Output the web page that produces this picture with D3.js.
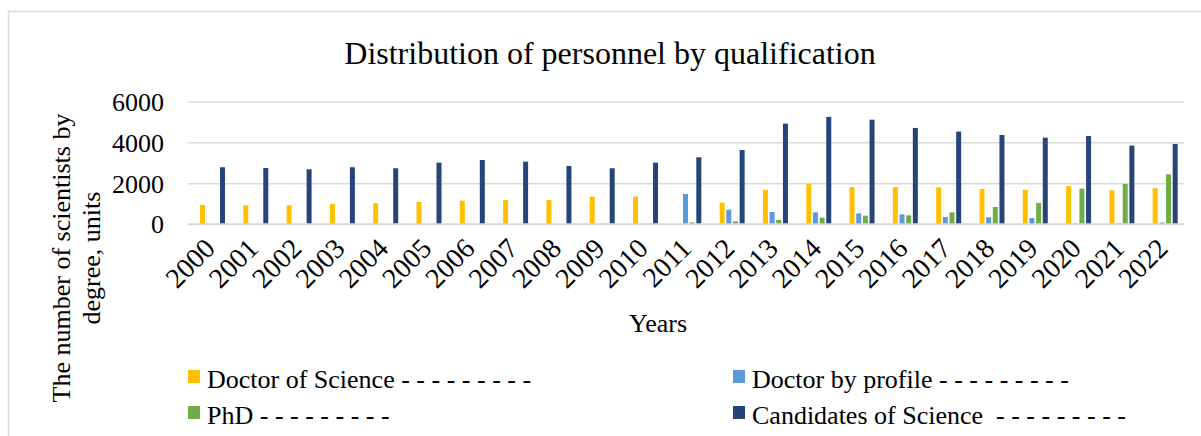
<!DOCTYPE html>
<html>
<head>
<meta charset="utf-8">
<script src="https://cdn.jsdelivr.net/npm/d3@7"></script>
<style>
  html, body { margin: 0; padding: 0; background: #fff; }
</style>
</head>
<body>
<svg id="chart" width="1201" height="436"></svg>
<script>
// Scientists by academic degree, 2000–2022
const years = ["2000","2001","2002","2003","2004","2005","2006","2007","2008","2009","2010",
  "2011","2012","2013","2014","2015","2016","2017","2018","2019","2020","2021","2022"];

const doctorOfScience = [930,915,915,980,1015,1080,1140,1175,1175,1340,1340,0,1045,1680,1975,1810,1810,1795,1715,1680,1860,1650,1750];
const doctorByProfile = [0,0,0,0,0,0,0,0,0,0,0,1470,700,590,570,520,475,345,330,295,30,30,70];
const phd = [0,0,0,0,0,0,0,0,0,20,20,80,130,200,310,410,425,570,835,1030,1730,1960,2435];
const candidatesOfScience = [2780,2745,2680,2780,2730,3005,3135,3055,2840,2730,3005,3270,3625,4915,5245,5110,4705,4525,4360,4230,4310,3840,3920];

const seriesNames = ["Doctor of Science", "Doctor by profile", "PhD", "Candidates of Science"];
const seriesValues = [doctorOfScience, doctorByProfile, phd, candidatesOfScience];
const seriesColors = ["#FFC000", "#5B9BD5", "#70AD47", "#264478"];
const legendLabels = [
  "Doctor of Science - - - - - - - - -",
  "Doctor by profile - - - - - - - - -",
  "PhD - - - - - - - - -",
  "Candidates of Science  - - - - - - - - -"
];
const yTicks = [0, 2000, 4000, 6000];

const FONT = "'Liberation Serif', 'Times New Roman', serif";

const svg = d3.select("#chart").attr("font-family", FONT);

// outer chart frame
svg.append("rect")
  .attr("x", 8.5).attr("y", 11.5).attr("width", 1220).attr("height", 460)
  .attr("fill", "#fff").attr("stroke", "#D9D9D9").attr("stroke-width", 1.5);

const plot = { left: 188, right: 1184, top: 101.5, bottom: 224 };

const x = d3.scaleBand().domain(years).range([plot.left, plot.right]);
const bw = x.bandwidth();
const xInner = d3.scaleBand().domain(d3.range(4))
  .range([bw * 0.277, bw * 0.854]).paddingInner(0.25);
const y = d3.scaleLinear().domain([0, 6000]).range([plot.bottom, plot.top]);

function serif(sel, size) {
  return sel.style("font-family", FONT).style("font-size", size + "px").attr("fill", "#000");
}

// title
serif(svg.append("text"), 32)
  .attr("x", 610).attr("y", 64)
  .attr("text-anchor", "middle")
  .text("Distribution of personnel by qualification");

// horizontal gridlines and value labels
const yAxis = d3.axisLeft(y).tickValues(yTicks).tickSize(-(plot.right - plot.left)).tickPadding(24).tickFormat(d3.format("d"));
const gy = svg.append("g").attr("transform", `translate(${plot.left},0)`).call(yAxis);
gy.select(".domain").remove();
gy.selectAll(".tick line").attr("stroke", "#D9D9D9").attr("stroke-width", 1.5);
serif(gy.selectAll(".tick text"), 26).attr("dy", "0.34em");

// bars
const rows = [];
years.forEach((yr, i) => {
  seriesValues.forEach((vals, s) => rows.push({ year: yr, s, v: vals[i] }));
});
svg.append("g").selectAll("rect").data(rows).join("rect")
  .attr("x", d => x(d.year) + xInner(d.s))
  .attr("width", xInner.bandwidth())
  .attr("y", d => y(d.v))
  .attr("height", d => y(0) - y(d.v))
  .attr("fill", d => seriesColors[d.s]);

// baseline
svg.append("line")
  .attr("x1", plot.left).attr("x2", plot.right)
  .attr("y1", y(0)).attr("y2", y(0))
  .attr("stroke", "#D9D9D9").attr("stroke-width", 1.5);

// rotated year labels
serif(svg.append("g").selectAll("text").data(years).join("text"), 28)
  .attr("transform", d => `translate(${x(d) + bw * 0.66},${250}) rotate(-45)`)
  .attr("text-anchor", "end")
  .text(d => d);

// axis titles
serif(svg.append("text"), 26)
  .attr("x", 658).attr("y", 332)
  .attr("text-anchor", "middle")
  .text("Years");

const yTitle = serif(svg.append("text"), 26)
  .attr("transform", "translate(70,258) rotate(-90)")
  .attr("text-anchor", "middle");
yTitle.append("tspan").attr("x", 0).attr("dy", 0).text("The number of scientists by");
yTitle.append("tspan").attr("x", 0).attr("dy", 30).text("degree, units");

// legend
const legendPos = [
  { x: 188, y: 388 }, { x: 733, y: 388 },
  { x: 188, y: 424 }, { x: 733, y: 424 }
];
const lg = svg.append("g").selectAll("g").data(seriesNames).join("g")
  .attr("transform", (d, i) => `translate(${legendPos[i].x},${legendPos[i].y})`);
lg.append("rect")
  .attr("x", 0).attr("y", -18).attr("width", 12).attr("height", 13)
  .attr("fill", (d, i) => seriesColors[i]);
serif(lg.append("text"), 26)
  .attr("x", 19).attr("y", 0)
  .attr("xml:space", "preserve")
  .style("white-space", "pre")
  .text((d, i) => legendLabels[i]);
</script>
</body>
</html>
